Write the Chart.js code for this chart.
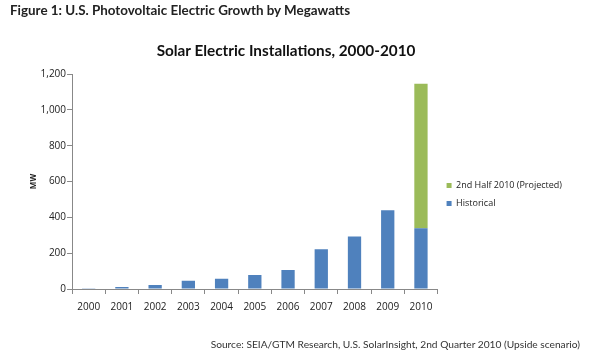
<!DOCTYPE html>
<html><head><meta charset="utf-8">
<script src="https://cdn.jsdelivr.net/npm/chart.js@4.4.0/dist/chart.umd.min.js"></script>
<style>
html,body{margin:0;padding:0;background:#fff;width:590px;height:358px;overflow:hidden;}
#wrap{position:absolute;left:0;top:0;width:590px;height:358px;}
#hdr{position:absolute;left:10px;top:2px;font:bold 13.4px Lato, "Open Sans", sans-serif;color:#222;white-space:nowrap;}
#ttl{position:absolute;left:86px;width:400px;text-align:center;top:41px;line-height:18px;font:bold 15.3px Lato, "Open Sans", sans-serif;color:#111;white-space:nowrap;}
#src{position:absolute;right:10px;top:338px;font:10.2px Lato, "Open Sans", sans-serif;color:#333;white-space:nowrap;}
</style></head><body>
<div id="wrap"><canvas id="c" width="590" height="358"></canvas></div>
<div id="hdr">Figure 1: U.S. Photovoltaic Electric Growth by Megawatts</div>
<div id="ttl">Solar Electric Installations, 2000-2010</div>
<div id="src">Source: SEIA/GTM Research, U.S. SolarInsight, 2nd Quarter 2010 (Upside scenario)</div>
<script>
const years = ["2000","2001","2002","2003","2004","2005","2006","2007","2008","2009","2010"];
const historical = [4, 11, 22, 46, 57, 78, 106, 222, 293, 439, 339];
const projected = [null, null, null, null, null, null, null, null, null, null, 806];
const yTicks = [0, 200, 400, 600, 800, 1000, 1200];

new Chart(document.getElementById('c'), {
  type: 'bar',
  data: {
    labels: years,
    datasets: [
      {label: 'Historical', data: historical, backgroundColor: '#4F81BD', barPercentage: 0.4, categoryPercentage: 1.0},
      {label: '2nd Half 2010 (Projected)', data: projected, backgroundColor: '#9BBB59', barPercentage: 0.4, categoryPercentage: 1.0}
    ]
  },
  options: {
    responsive: false,
    animation: false,
    devicePixelRatio: 1,
    layout: {padding: {top: 74, bottom: 38, left: 25, right: 18}},
    plugins: {
      title: {display: false},
      legend: {position: 'right', reverse: true, align: 'start',
        title: {display: true, text: ' ', font: {size: 10}, padding: {top: 86, bottom: 0}},
        labels: {boxWidth: 5, boxHeight: 5, color: '#222', padding: 9, font: {family: 'Open Sans', size: 9}}},
      tooltip: {enabled: false}
    },
    scales: {
      x: {stacked: true,
        grid: {display: true, drawOnChartArea: false, offset: true, tickLength: 5, color: '#888'},
        border: {color: '#888'},
        ticks: {color: '#222', font: {family: 'Open Sans', size: 10}, padding: 7}},
      y: {stacked: true, min: 0, max: 1200,
        afterBuildTicks: (s) => { s.ticks = yTicks.map(v => ({value: v})); },
        grid: {display: true, drawOnChartArea: false, tickLength: 5, color: '#888'},
        border: {color: '#888'},
        title: {display: true, text: 'MW', color: '#222', font: {family: 'Open Sans', size: 8, weight: 'bold'}, padding: {bottom: 1}},
        ticks: {color: '#222', font: {family: 'Open Sans', size: 10}, padding: 1,
          callback: (v) => v.toLocaleString('en-US')}}
    }
  }
});
</script>
</body></html>
